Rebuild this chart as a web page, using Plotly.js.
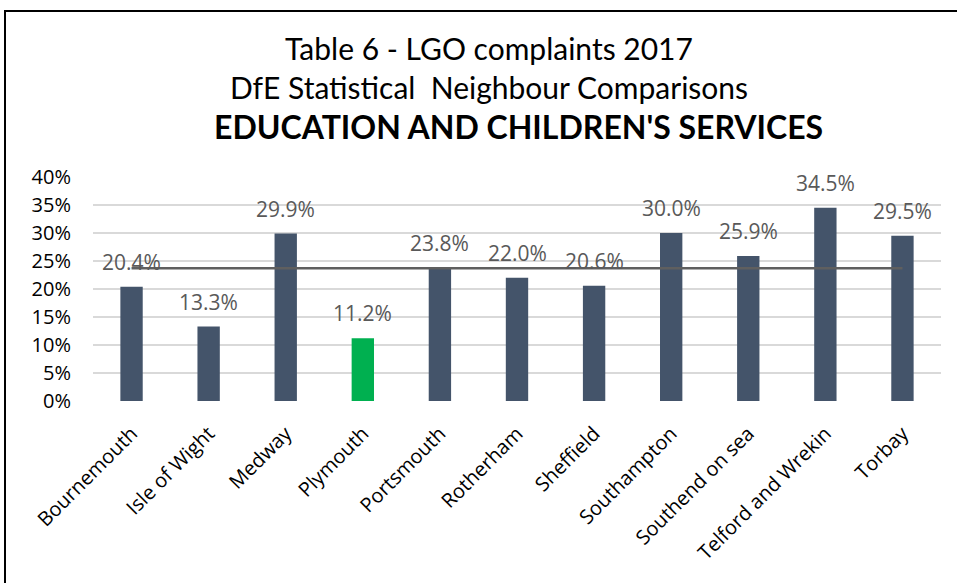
<!DOCTYPE html>
<html><head><meta charset="utf-8">
<script src="https://cdn.plot.ly/plotly-3.0.1.min.js"></script>
<style>
html,body{margin:0;padding:0;background:#fff;overflow:hidden}
#chart{width:957px;height:583px}
#frame{position:absolute;left:4px;top:10px;width:1200px;height:1200px;border:2px solid #000;pointer-events:none}
</style></head><body>
<div id="chart"></div><div id="frame"></div>
<script>
const categories = ['Bournemouth','Isle of Wight','Medway','Plymouth','Portsmouth','Rotherham','Sheffield','Southampton','Southend on sea','Telford and Wrekin','Torbay'];
const values = [20.4, 13.3, 29.9, 11.2, 23.8, 22.0, 20.6, 30.0, 25.9, 34.5, 29.5];
const averageLine = [23.7, 23.7, 23.7, 23.7, 23.7, 23.7, 23.7, 23.7, 23.7, 23.7, 23.7];
const highlightCategory = 'Plymouth';
const yTickValues = [0, 5, 10, 15, 20, 25, 30, 35, 40];
const yTickLabels = ['0%', '5%', '10%', '15%', '20%', '25%', '30%', '35%', '40%'];
const titleLines = ['Table 6 - LGO complaints 2017', 'DfE Statistical\u00A0 Neighbour Comparisons', "EDUCATION AND CHILDREN'S SERVICES"];

const barColor = '#44546A', highlightColor = '#00B050', labelColor = '#595959';
const colors = categories.map(c => c === highlightCategory ? highlightColor : barColor);
const labelText = values.map(v => v.toFixed(1) + '%');

const traces = [
  {type: 'bar', x: categories, y: values, marker: {color: colors}, hoverinfo: 'skip'},
  {type: 'scatter', mode: 'lines', x: categories, y: averageLine, line: {color: '#5f5f5f', width: 2.5}, hoverinfo: 'skip'}
];

const annotations = categories.map((c, i) => ({
  x: c, y: values[i], xref: 'x', yref: 'y', text: labelText[i], showarrow: false,
  yanchor: 'bottom', yshift: 9, font: {family: 'Open Sans', size: 21, color: labelColor}
}));
annotations.push({
  xref: 'paper', yref: 'paper', x: (518 - 93) / 848, y: (401 - 127) / 224,
  xanchor: 'center', yanchor: 'middle', showarrow: false,
  text: '<b>' + titleLines[2] + '</b>', font: {family: 'Lato', size: 32, color: '#000'}
});

const layout = {
  width: 957, height: 583,
  margin: {l: 93, r: 16, t: 177, b: 182},
  paper_bgcolor: '#fff', plot_bgcolor: '#fff',
  showlegend: false,
  bargap: 0.71,
  title: {
    text: titleLines[0] + '<br>' + titleLines[1],
    font: {family: 'Lato', size: 30, color: '#000'},
    xref: 'container', x: 489 / 957, xanchor: 'center',
    yref: 'container', y: 1 - 60 / 583, yanchor: 'top'
  },
  xaxis: {
    type: 'category', tickangle: -45, showgrid: false, zeroline: false, showline: false, ticks: '',
    tickfont: {family: 'Open Sans', size: 20, color: '#000'}, ticklabelstandoff: 16, fixedrange: true
  },
  yaxis: {
    range: [0, 40], tickvals: yTickValues, ticktext: yTickLabels, showgrid: true,
    gridcolor: '#d9d9d9', gridwidth: 2, zeroline: false, showline: false, ticks: '',
    tickfont: {family: 'Open Sans', size: 20, color: '#000'}, ticklabelstandoff: 21, fixedrange: true
  },
  annotations: annotations
};

Plotly.newPlot('chart', traces, layout, {displayModeBar: false, staticPlot: true});
</script>
</body></html>
